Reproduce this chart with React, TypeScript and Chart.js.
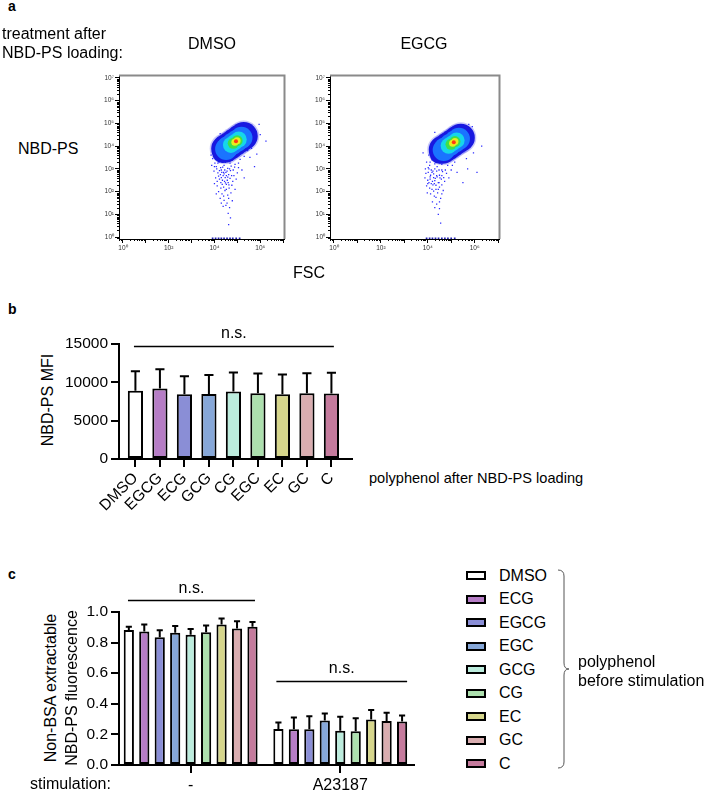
import React, { useEffect, useRef } from "react";
import { Chart, registerables } from "chart.js";

Chart.register(...registerables);

const FONT = 'Arial, "Liberation Sans", Helvetica, sans-serif';
Chart.defaults.font.family = FONT;
Chart.defaults.color = "#000";

// ---------------- Panel a: flow cytometry (log10 units) ----------------
const FLOW_DECADES = [0, 1, 2, 3, 4, 5, 6, 7];
const DECADE_SUP = ["⁰", "¹", "²", "³", "⁴", "⁵", "⁶", "⁷"];

// density levels of the main population, [log10 FSC, log10 NBD-PS]
const DMSO_DENSITY_HALO = [[4.47, 3.88], [4.68, 4.02], [4.89, 4.17], [5.1, 4.32], [5.28, 4.44]];
const DMSO_DENSITY_OUTER = [[4.47, 3.88], [4.68, 4.02], [4.89, 4.17], [5.1, 4.32], [5.28, 4.44]];
const DMSO_DENSITY_LOWER_LOBE = [[4.34, 3.7]];
const DMSO_DENSITY_MID = [[4.51, 3.87], [4.58, 3.95], [4.79, 4.1], [4.99, 4.24], [5.18, 4.37]];
const DMSO_DENSITY_CYAN = [[4.72, 4.05], [4.89, 4.17], [5.06, 4.29]];
const DMSO_DENSITY_GREEN = [[4.82, 4.12], [4.99, 4.24]];
const DMSO_DENSITY_YELLOW = [[4.89, 4.17], [4.99, 4.24]];
const DMSO_DENSITY_RED = [[4.94, 4.21]];
const DMSO_SPARSE_EVENTS = [
  [3.92, 3.45], [4.02, 3.25], [4.12, 3.5], [4.2, 3.3], [4.33, 3.42], [4.48, 3.28], [4.62, 3.47], [4.78, 3.38],
  [4.95, 3.5], [5.12, 3.42], [5.3, 3.55], [4.08, 3.1], [4.27, 3.05], [4.42, 3.15], [4.58, 3.02], [4.73, 3.12],
  [4.9, 3.2], [5.05, 3.05], [3.98, 2.9], [4.15, 2.82], [4.3, 2.95], [4.38, 2.7], [4.5, 2.85], [4.62, 2.75],
  [4.7, 2.92], [4.85, 2.7], [5.0, 2.82], [5.2, 2.95], [4.05, 2.6], [4.22, 2.55], [4.35, 2.5], [4.47, 2.62],
  [4.56, 2.5], [4.68, 2.58], [4.8, 2.45], [4.95, 2.55], [5.3, 2.6], [4.0, 2.35], [4.12, 2.25], [4.28, 2.4],
  [4.4, 2.2], [4.52, 2.32], [4.64, 2.15], [4.76, 2.28], [4.9, 2.1], [4.18, 2.0], [4.33, 1.9], [4.46, 2.05],
  [4.58, 1.85], [4.72, 1.95], [4.25, 1.7], [4.42, 1.62], [4.55, 1.5], [4.38, 1.35], [4.66, 1.3], [4.6, 1.05],
  [4.7, 0.85], [4.62, 0.55], [5.55, 3.5], [5.85, 3.65], [6.0, 4.5], [6.25, 4.22], [5.75, 3.1], [3.95, 3.75],
  [5.62, 3.9], [5.95, 4.95], [4.25, 4.55], [4.44, 2.45], [4.52, 2.7], [4.3, 2.62], [4.6, 2.4], [4.4, 2.85],
  [4.1, 3.0], [4.22, 2.92], [4.36, 3.08], [4.55, 2.9], [4.66, 3.0], [4.82, 2.95], [4.18, 2.68], [4.26, 2.75],
  [4.42, 2.78], [4.58, 2.64], [4.75, 2.7], [4.12, 2.45], [4.34, 2.32], [4.48, 2.38], [4.63, 2.3], [4.28, 2.15],
  [4.52, 2.1], [4.4, 1.8], [4.62, 1.7], [4.3, 1.5], [4.5, 1.4], [4.08, 1.9], [4.78, 1.6], [4.15, 3.25],
  [4.38, 3.3], [4.68, 3.25], [4.88, 3.08], [5.05, 3.25], [4.0, 3.1], [3.88, 3.15], [4.45, 2.95], [4.32, 2.85],
  [3.85, 3.6], [5.5, 4.75], [5.65, 4.85], [5.72, 4.6], [5.45, 3.8], [4.05, 3.85],
];
const DMSO_AXIS_EVENTS = [
  [3.92, -0.05], [4.05, -0.05], [4.18, -0.05], [4.3, -0.05], [4.42, -0.05], [4.55, -0.05], [4.68, -0.05],
  [4.8, -0.05], [4.95, -0.05], [5.1, -0.05],
];

const EGCG_DENSITY_HALO = [[4.64, 3.84], [4.85, 3.98], [5.06, 4.13], [5.27, 4.28], [5.41, 4.37]];
const EGCG_DENSITY_OUTER = [[4.64, 3.84], [4.85, 3.98], [5.06, 4.13], [5.27, 4.28], [5.41, 4.37]];
const EGCG_DENSITY_LOWER_LOBE = [[4.51, 3.66]];
const EGCG_DENSITY_MID = [[4.68, 3.83], [4.75, 3.91], [4.96, 4.06], [5.16, 4.2], [5.33, 4.32]];
const EGCG_DENSITY_CYAN = [[4.89, 4.01], [5.06, 4.13], [5.23, 4.25]];
const EGCG_DENSITY_GREEN = [[4.99, 4.08], [5.16, 4.2]];
const EGCG_DENSITY_YELLOW = [[5.06, 4.13], [5.16, 4.2]];
const EGCG_DENSITY_RED = [[5.11, 4.17]];
const EGCG_SPARSE_EVENTS = [
  [3.95, 3.3], [4.08, 3.15], [4.18, 3.4], [4.3, 3.22], [4.45, 3.35], [4.6, 3.2], [4.78, 3.3], [4.95, 3.4],
  [5.15, 3.3], [3.9, 3.0], [4.02, 2.85], [4.15, 2.95], [4.25, 2.78], [4.38, 2.9], [4.5, 2.72], [4.63, 2.88],
  [4.8, 2.8], [5.0, 2.95], [5.25, 2.85], [3.88, 2.6], [4.0, 2.5], [4.1, 2.65], [4.2, 2.45], [4.32, 2.58],
  [4.45, 2.4], [4.58, 2.55], [4.72, 2.45], [4.9, 2.6], [3.95, 2.25], [4.08, 2.15], [4.22, 2.3], [4.35, 2.1],
  [4.5, 2.2], [4.66, 2.05], [4.12, 1.9], [4.28, 1.8], [4.42, 1.95], [4.55, 1.7], [4.2, 1.55], [4.38, 1.45],
  [4.5, 1.25], [4.45, 1.0], [4.55, 0.62], [5.65, 3.45], [5.95, 3.7], [5.8, 4.5], [5.7, 3.0], [3.8, 3.7],
  [5.9, 4.85], [4.3, 4.6], [5.5, 2.4], [6.3, 4.0], [6.1, 2.85], [4.12, 2.72], [4.28, 2.35], [4.05, 2.4],
  [4.18, 2.1], [4.4, 2.65], [4.02, 3.05], [4.6, 2.95], [4.05, 3.0], [4.18, 2.85], [4.3, 3.0], [4.48, 2.95],
  [4.6, 2.7], [4.75, 2.95], [4.1, 2.55], [4.25, 2.62], [4.38, 2.7], [4.52, 2.6], [4.68, 2.62], [4.0, 2.35],
  [4.15, 2.35], [4.35, 2.28], [4.48, 2.4], [4.6, 2.3], [4.25, 2.02], [4.45, 2.1], [4.35, 1.75], [4.5, 1.55],
  [4.3, 1.3], [3.98, 1.95], [4.6, 1.9], [4.1, 3.3], [4.35, 3.35], [4.65, 3.35], [4.85, 3.15], [5.05, 3.15],
  [3.92, 2.8], [4.4, 3.1], [4.22, 2.9], [4.3, 2.48], [5.6, 4.8], [5.75, 4.95], [5.85, 4.3], [4.05, 3.6],
];
const EGCG_AXIS_EVENTS = [
  [3.95, -0.05], [4.08, -0.05], [4.2, -0.05], [4.33, -0.05], [4.46, -0.05], [4.6, -0.05], [4.73, -0.05],
  [4.86, -0.05], [5.0, -0.05], [5.15, -0.05],
];

// ---------------- Panel b ----------------
const PANEL_B_CATEGORIES = ["DMSO", "EGCG", "ECG", "GCG", "CG", "EGC", "EC", "GC", "C"];
const PANEL_B_MFI = [8900, 9200, 8440, 8490, 8790, 8580, 8450, 8580, 8540];
const PANEL_B_MFI_UPPER = [11450, 11700, 10780, 10950, 11290, 11160, 11030, 11200, 11240];
const PANEL_B_TICKS = [0, 5000, 10000, 15000];

// ---------------- Panel c ----------------
const PANEL_C_GROUPS = ["-", "A23187"];
const PANEL_C_SERIES = ["DMSO", "ECG", "EGCG", "EGC", "GCG", "CG", "EC", "GC", "C"];
const PANEL_C_UNSTIMULATED = [0.883, 0.872, 0.835, 0.864, 0.851, 0.867, 0.918, 0.892, 0.903];
const PANEL_C_UNSTIMULATED_UPPER = [0.904, 0.918, 0.881, 0.908, 0.889, 0.912, 0.957, 0.94, 0.935];
const PANEL_C_STIMULATED = [0.236, 0.234, 0.234, 0.291, 0.224, 0.22, 0.297, 0.287, 0.284];
const PANEL_C_STIMULATED_UPPER = [0.278, 0.31, 0.318, 0.337, 0.316, 0.305, 0.359, 0.342, 0.324];

const PALETTE = ["#ffffff", "#b67dc6", "#8a8ed6", "#86a7d8", "#bcecdd", "#ade0ae", "#d6d68c", "#d9adb0", "#c57b9d"];

// ---------------- plugins ----------------
const flowAxesPlugin = {
  id: "flowAxes",
  afterDraw(chart: any) {
    const { ctx, chartArea: a, scales } = chart;
    const xs = scales.x;
    const ys = scales.y;
    ctx.save();
    ctx.strokeStyle = "#8a8a8a";
    ctx.lineWidth = 2;
    ctx.beginPath();
    ctx.moveTo(a.left, a.top);
    ctx.lineTo(a.right, a.top);
    ctx.lineTo(a.right, a.bottom);
    ctx.stroke();
    ctx.strokeStyle = "#000";
    ctx.lineWidth = 1;
    ctx.beginPath();
    for (let d = -1; d <= 7; d++) {
      for (let k = 2; k <= 9; k++) {
        const v = d + Math.log10(k);
        if (v > xs.min && v < xs.max) {
          const px = Math.round(xs.getPixelForValue(v)) + 0.5;
          ctx.moveTo(px, a.bottom);
          ctx.lineTo(px, a.bottom + 2);
        }
        if (v > ys.min && v < ys.max) {
          const py = Math.round(ys.getPixelForValue(v)) + 0.5;
          ctx.moveTo(a.left, py);
          ctx.lineTo(a.left - 2, py);
        }
      }
    }
    ctx.stroke();
    ctx.restore();
  },
};

const errorBarPlugin = {
  id: "errorBars",
  afterDatasetsDraw(chart: any) {
    const { ctx } = chart;
    const ys = chart.scales.y;
    ctx.save();
    ctx.strokeStyle = "#000";
    ctx.lineWidth = 2;
    chart.data.datasets.forEach((ds: any, di: number) => {
      const meta = chart.getDatasetMeta(di);
      meta.data.forEach((bar: any, i: number) => {
        const top = ys.getPixelForValue(ds.errorUpper[i]);
        const half = bar.width * 0.3;
        ctx.beginPath();
        ctx.moveTo(bar.x, bar.y);
        ctx.lineTo(bar.x, top);
        ctx.moveTo(bar.x - half, top);
        ctx.lineTo(bar.x + half, top);
        ctx.stroke();
      });
    });
    ctx.restore();
  },
};

type Sig = { from: number; to: number; y: number; gap: number; text: string };
function sigPlugin(items: Sig[]) {
  return {
    id: "sig",
    afterDraw(chart: any) {
      const { ctx } = chart;
      const xs = chart.scales.x;
      const ys = chart.scales.y;
      ctx.save();
      ctx.strokeStyle = "#000";
      ctx.fillStyle = "#000";
      ctx.lineWidth = 1.5;
      ctx.font = `16px ${FONT}`;
      ctx.textAlign = "center";
      ctx.textBaseline = "alphabetic";
      items.forEach((it) => {
        const x1 = xs.getPixelForValue(it.from);
        const x2 = xs.getPixelForValue(it.to);
        const py = Math.round(ys.getPixelForValue(it.y)) + 0.5;
        ctx.beginPath();
        ctx.moveTo(x1, py);
        ctx.lineTo(x2, py);
        ctx.stroke();
        ctx.fillText(it.text, (x1 + x2) / 2, py - it.gap);
      });
      ctx.restore();
    },
  };
}

// ---------------- configs ----------------
const pts = (arr: number[][]) => arr.map(([x, y]) => ({ x, y }));

function flowConfig(sets: any, padRight: number, yWidth: number) {
  const layer = (data: number[][], r: number, color: string, style = "circle") => ({
    data: pts(data),
    pointRadius: r,
    pointStyle: style,
    backgroundColor: color,
    borderWidth: 0,
  });
  return {
    type: "scatter",
    data: {
      datasets: [
        layer(sets.red, 2, "#ff3a12"),
        layer(sets.yellow, 3.5, "#e8ee1e"),
        layer(sets.green, 5.5, "#3ee04a"),
        layer(sets.cyan, 8, "#16d6ea"),
        layer(sets.mid, 11, "#1a74ff"),
        layer(sets.lobe, 10, "#1818e0"),
        layer(sets.outer, 14, "#1818e0"),
        layer(sets.halo, 15.5, "rgba(40,40,235,0.25)"),
        layer(sets.sparse, 0.9, "#2b2bff", "rect"),
        layer(sets.axis, 1.2, "#2020b0", "rect"),
      ],
    },
    options: {
      responsive: false,
      animation: false,
      events: [],
      layout: { padding: { top: 10, right: padRight, left: 0, bottom: 0 } },
      plugins: { legend: { display: false }, tooltip: { enabled: false } },
      scales: {
        x: {
          type: "linear",
          min: -0.17,
          max: 7.06,
          afterBuildTicks: (s: any) => {
            s.ticks = FLOW_DECADES.map((v) => ({ value: v }));
          },
          afterFit: (s: any) => {
            s.height = 21;
          },
          grid: { display: true, drawOnChartArea: false, tickLength: 4, color: "#000", lineWidth: 1 },
          border: { display: true, color: "#000", width: 1 },
          ticks: {
            font: { size: 6.5 },
            color: "#333",
            padding: 1,
            maxRotation: 0,
            minRotation: 0,
            autoSkip: false,
            callback: (v: number) => (v % 2 === 0 ? "10" + DECADE_SUP[v] : ""),
          },
        },
        y: {
          type: "linear",
          min: -0.08,
          max: 7.1,
          afterBuildTicks: (s: any) => {
            s.ticks = FLOW_DECADES.map((v) => ({ value: v }));
          },
          afterFit: (s: any) => {
            s.width = yWidth;
          },
          grid: { display: true, drawOnChartArea: false, tickLength: 4, color: "#000", lineWidth: 1 },
          border: { display: true, color: "#000", width: 1 },
          ticks: {
            font: { size: 6.5 },
            color: "#333",
            padding: 1,
            autoSkip: false,
            callback: (v: number) => "10" + DECADE_SUP[v],
          },
        },
      },
    },
    plugins: [flowAxesPlugin],
  };
}

const axisCommon = {
  grid: { display: true, drawOnChartArea: false, tickLength: 8, color: "#000", lineWidth: 2 },
  border: { display: true, color: "#000", width: 2 },
};

function panelBConfig() {
  return {
    type: "bar",
    data: {
      datasets: [
        {
          data: PANEL_B_MFI.map((v, i) => ({ x: i, y: v })),
          errorUpper: PANEL_B_MFI_UPPER,
          backgroundColor: PALETTE,
          borderColor: "#000",
          borderWidth: 2,
          borderSkipped: false,
          categoryPercentage: 1,
          barPercentage: 0.62,
        },
      ],
    },
    options: {
      responsive: false,
      animation: false,
      events: [],
      layout: { padding: { top: 24, right: 8, left: 0, bottom: 0 } },
      plugins: { legend: { display: false }, tooltip: { enabled: false } },
      scales: {
        x: {
          type: "linear",
          offset: false,
          min: -0.67,
          max: 8.84,
          afterBuildTicks: (s: any) => {
            s.ticks = PANEL_B_CATEGORIES.map((_, i) => ({ value: i }));
          },
          afterFit: (s: any) => {
            s.height = 61;
          },
          ...axisCommon,
          grid: { ...axisCommon.grid, offset: false },
          ticks: {
            font: { size: 15.5 },
            color: "#000",
            padding: 2,
            autoSkip: false,
            minRotation: 45,
            maxRotation: 45,
            callback: (v: number) => PANEL_B_CATEGORIES[v],
          },
        },
        y: {
          type: "linear",
          min: 0,
          max: 15000,
          afterBuildTicks: (s: any) => {
            s.ticks = PANEL_B_TICKS.map((v) => ({ value: v }));
          },
          afterFit: (s: any) => {
            s.width = 59;
          },
          ...axisCommon,
          ticks: { font: { size: 15.5 }, color: "#000", padding: 3, callback: (v: number) => String(v) },
        },
      },
    },
    plugins: [
      errorBarPlugin,
      sigPlugin([{ from: -0.06, to: 8.1, y: 14740, gap: 9, text: "n.s." }]),
    ],
  };
}

function panelCConfig() {
  return {
    type: "bar",
    data: {
      datasets: PANEL_C_SERIES.map((name, i) => ({
        label: name,
        data: [
          { x: 0, y: PANEL_C_UNSTIMULATED[i] },
          { x: 1, y: PANEL_C_STIMULATED[i] },
        ],
        errorUpper: [PANEL_C_UNSTIMULATED_UPPER[i], PANEL_C_STIMULATED_UPPER[i]],
        backgroundColor: PALETTE[i],
        borderColor: "#000",
        borderWidth: 2,
        borderSkipped: false,
        categoryPercentage: 0.93,
        barPercentage: 0.66,
      })),
    },
    options: {
      responsive: false,
      animation: false,
      events: [],
      layout: { padding: { top: 37, right: 16, left: 0, bottom: 0 } },
      plugins: { legend: { display: false }, tooltip: { enabled: false } },
      scales: {
        x: {
          type: "linear",
          offset: false,
          min: -0.479,
          max: 1.493,
          afterBuildTicks: (s: any) => {
            s.ticks = PANEL_C_GROUPS.map((_, i) => ({ value: i }));
          },
          afterFit: (s: any) => {
            s.height = 27;
          },
          ...axisCommon,
          grid: { ...axisCommon.grid, offset: false },
          ticks: {
            font: { size: 16 },
            color: "#000",
            padding: 3,
            autoSkip: false,
            maxRotation: 0,
            minRotation: 0,
            callback: (v: number) => PANEL_C_GROUPS[v],
          },
        },
        y: {
          type: "linear",
          min: 0,
          max: 1,
          ticks: { stepSize: 0.2, font: { size: 15.5 }, color: "#000", padding: 3, callback: (v: number) => v.toFixed(1) },
          afterFit: (s: any) => {
            s.width = 59;
          },
          ...axisCommon,
        },
      },
    },
    plugins: [
      errorBarPlugin,
      sigPlugin([
        { from: -0.419, to: 0.43, y: 1.076, gap: 8, text: "n.s." },
        { from: 0.573, to: 1.447, y: 0.548, gap: 9, text: "n.s." },
      ]),
    ],
  };
}

// ---------------- components ----------------
function ChartCanvas(props: { left: number; top: number; width: number; height: number; make: () => any }) {
  const ref = useRef<HTMLCanvasElement | null>(null);
  useEffect(() => {
    const chart = new Chart(ref.current as HTMLCanvasElement, props.make());
    return () => chart.destroy();
  }, []);
  return (
    <canvas
      ref={ref}
      width={props.width}
      height={props.height}
      style={{ position: "absolute", left: props.left, top: props.top, width: props.width, height: props.height }}
    />
  );
}

function Txt(props: { x: number; y: number; size?: number; bold?: boolean; center?: boolean; w?: number; children: any }) {
  const size = props.size ?? 16;
  const w = props.w ?? 200;
  return (
    <div
      style={{
        position: "absolute",
        left: props.center ? props.x - w / 2 : props.x,
        top: props.y,
        width: props.center ? w : undefined,
        textAlign: props.center ? "center" : "left",
        fontSize: size,
        lineHeight: `${size}px`,
        fontWeight: props.bold ? "bold" : "normal",
        whiteSpace: "nowrap",
        color: "#000",
      }}
    >
      {props.children}
    </div>
  );
}

function VTxt(props: { cx: number; cy: number; children: any }) {
  const w = 220;
  return (
    <div
      style={{
        position: "absolute",
        left: props.cx - w / 2,
        top: props.cy - 8,
        width: w,
        height: 16,
        fontSize: 16,
        lineHeight: "16px",
        textAlign: "center",
        whiteSpace: "nowrap",
        transform: "rotate(-90deg)",
        color: "#000",
      }}
    >
      {props.children}
    </div>
  );
}

export default function App() {
  const dmsoSets = {
    halo: DMSO_DENSITY_HALO, outer: DMSO_DENSITY_OUTER, lobe: DMSO_DENSITY_LOWER_LOBE, mid: DMSO_DENSITY_MID,
    cyan: DMSO_DENSITY_CYAN, green: DMSO_DENSITY_GREEN, yellow: DMSO_DENSITY_YELLOW, red: DMSO_DENSITY_RED,
    sparse: DMSO_SPARSE_EVENTS, axis: DMSO_AXIS_EVENTS,
  };
  const egcgSets = {
    halo: EGCG_DENSITY_HALO, outer: EGCG_DENSITY_OUTER, lobe: EGCG_DENSITY_LOWER_LOBE, mid: EGCG_DENSITY_MID,
    cyan: EGCG_DENSITY_CYAN, green: EGCG_DENSITY_GREEN, yellow: EGCG_DENSITY_YELLOW, red: EGCG_DENSITY_RED,
    sparse: EGCG_SPARSE_EVENTS, axis: EGCG_AXIS_EVENTS,
  };
  const legendRowTop = 575.5;
  const legendStep = 23.5;
  return (
    <div
      style={{
        position: "absolute",
        left: 0,
        top: 0,
        width: 708,
        height: 792,
        overflow: "hidden",
        background: "#fff",
        fontFamily: FONT,
      }}
    >
      <ChartCanvas left={80} top={60} width={220} height={200} make={() => flowConfig(dmsoSets, 11, 39)} />
      <ChartCanvas left={295} top={60} width={220} height={200} make={() => flowConfig(egcgSets, 13, 35)} />
      <ChartCanvas left={60} top={320} width={300} height={200} make={panelBConfig} />
      <ChartCanvas left={60} top={575} width={370} height={217} make={panelCConfig} />

      {/* panel a texts */}
      <Txt x={8} y={-1} size={14} bold>a</Txt>
      <Txt x={2} y={25.5}>treatment after</Txt>
      <Txt x={2} y={44.5}>NBD-PS loading:</Txt>
      <Txt x={212} y={35.5} center>DMSO</Txt>
      <Txt x={424} y={35.5} center>EGCG</Txt>
      <Txt x={18} y={141}>NBD-PS</Txt>
      <Txt x={293} y={264.5}>FSC</Txt>

      {/* panel b texts */}
      <Txt x={8} y={302} size={14} bold>b</Txt>
      <VTxt cx={48} cy={400}>NBD-PS MFI</VTxt>
      <Txt x={369} y={470.5} size={14.6}>polyphenol after NBD-PS loading</Txt>

      {/* panel c texts */}
      <Txt x={8} y={567} size={14} bold>c</Txt>
      <VTxt cx={51} cy={688}>Non-BSA extractable</VTxt>
      <VTxt cx={72} cy={688}>NBD-PS fluorescence</VTxt>
      <Txt x={30} y={775.5}>stimulation:</Txt>

      {/* legend */}
      {PANEL_C_SERIES.map((name, i) => (
        <React.Fragment key={name}>
          <div
            style={{
              position: "absolute",
              left: 466,
              top: legendRowTop + legendStep * i - 4.5,
              width: 20,
              height: 9,
              boxSizing: "border-box",
              border: "2px solid #000",
              background: PALETTE[i],
            }}
          />
          <Txt x={499} y={legendRowTop + legendStep * i + 5.5 - 13.5}>{name}</Txt>
        </React.Fragment>
      ))}
      <svg style={{ position: "absolute", left: 0, top: 0 }} width={708} height={792}>
        <path
          d="M 558 570 Q 564 570 564 576 L 564 663 Q 564 669 569 669 Q 564 669 564 675 L 564 762 Q 564 768 558 768"
          fill="none"
          stroke="#555"
          strokeWidth={1}
        />
      </svg>
      <Txt x={578} y={653.5}>polyphenol</Txt>
      <Txt x={578} y={672.5}>before stimulation</Txt>
    </div>
  );
}
